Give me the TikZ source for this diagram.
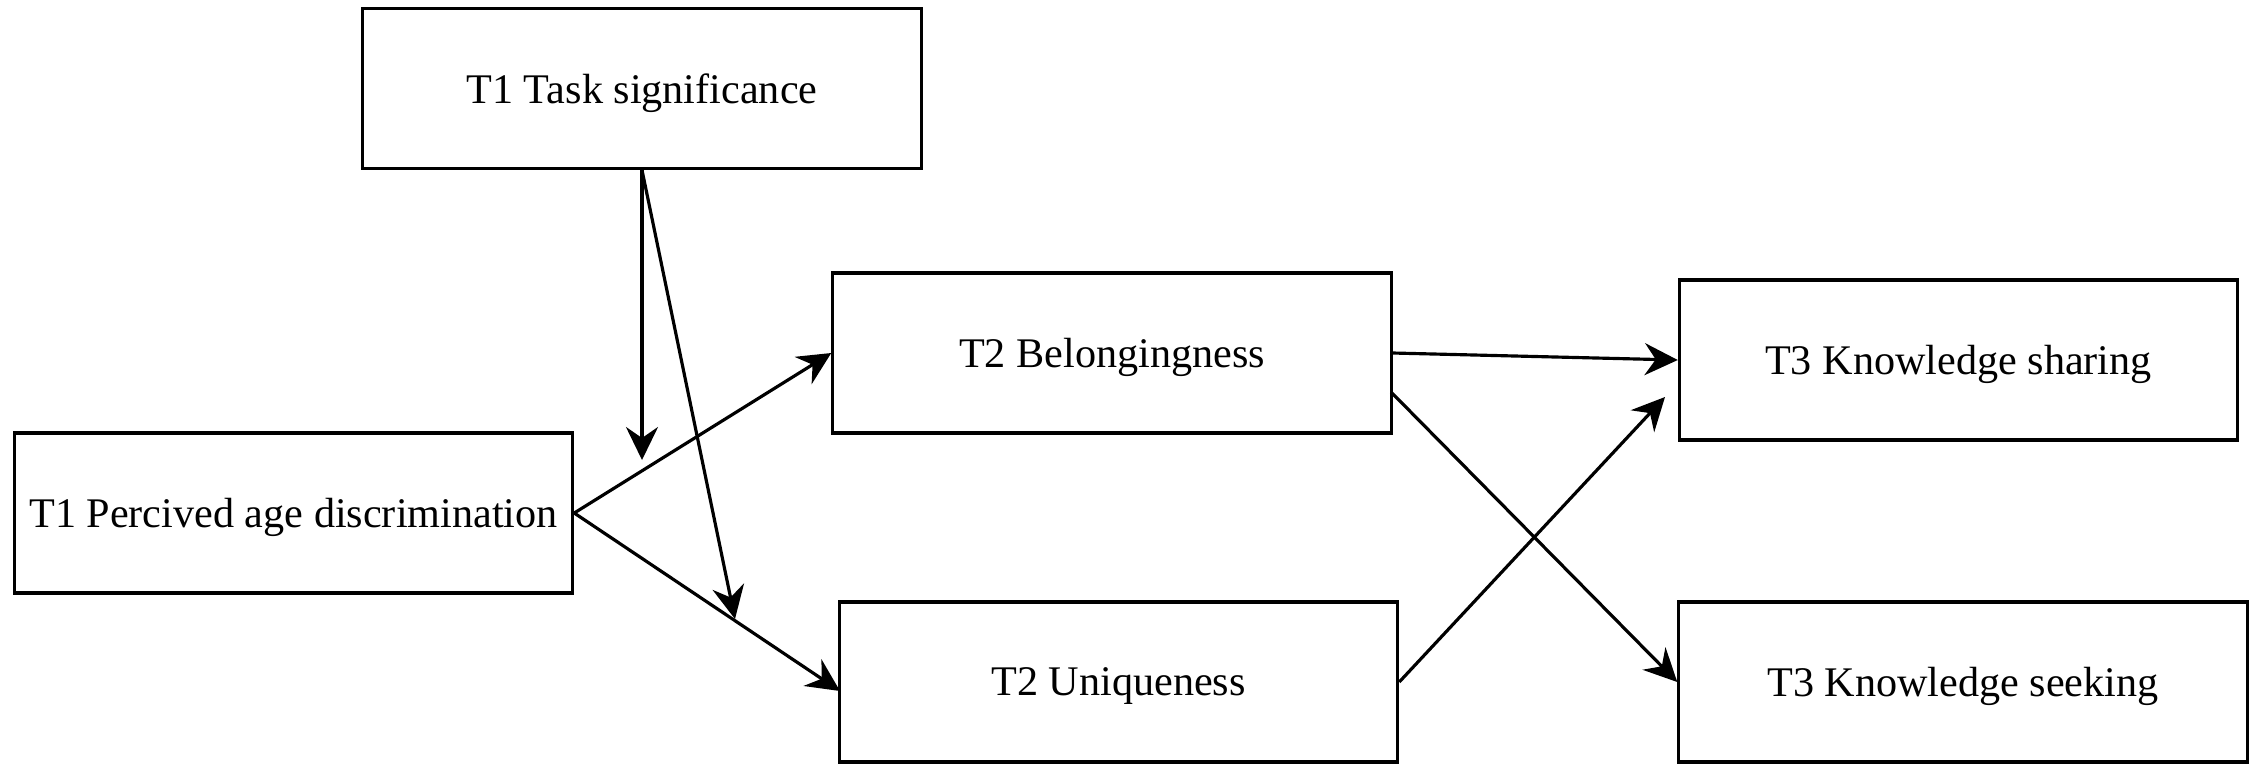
\documentclass[tikz,border=0pt]{standalone}
\usepackage{fontspec}
\setmainfont{Liberation Serif}
\usepackage{xcolor}
\definecolor{boxblack}{RGB}{0, 0, 0}
\usetikzlibrary{arrows.meta, positioning, calc}

\begin{document}
\begin{tikzpicture}[x=0.01cm, y=-0.01cm, >={Stealth[length=0.33cm, width=0.32cm, inset=0.11cm]},
    varbox/.style={draw=boxblack, line width=0.9pt, minimum width=5.58cm, minimum height=1.6cm, inner sep=0pt, text depth=0pt, font=\fontsize{12}{14}\selectfont},
    path/.style={->, line width=0.9pt, boxblack}]
    \useasboundingbox (0,0) rectangle (2252,763);

    \node[varbox] (tasksig) at (642, 88.5) {T1 Task significance};
    \node[varbox] (percived) at (293.5, 513) {T1 Percived age discrimination};
    \node[varbox] (belong) at (1112, 353) {T2 Belongingness};
    \node[varbox] (unique) at (1118.5, 682) {T2 Uniqueness};
    \node[varbox] (sharing) at (1958.5, 360) {T3 Knowledge sharing};
    \node[varbox, minimum width=5.68cm] (seeking) at (1963, 682) {T3 Knowledge seeking};

    \coordinate (mod1) at (642, 460);
    \coordinate (mod2) at (735, 619);
    \coordinate (uniqin) at (840, 691);
    \coordinate (belongout) at (1391, 392);
    \coordinate (sharein) at (1665, 397);

    \draw[path] (tasksig.south) -- (mod1);
    \draw[path] (tasksig.south) -- (mod2);
    \draw[path] (percived.east) -- (belong.west);
    \draw[path] (percived.east) -- (uniqin);
    \draw[path] (belong.east) -- (sharing.west);
    \draw[path] (belongout) -- (seeking.west);
    \draw[path] (unique.east) -- (sharein);
\end{tikzpicture}
\end{document}
